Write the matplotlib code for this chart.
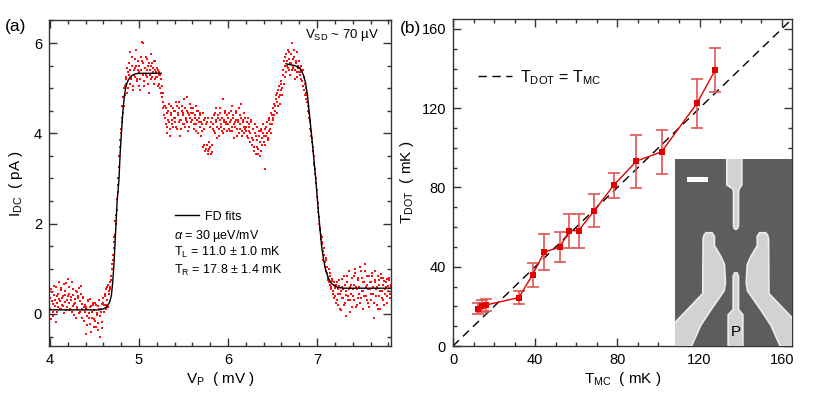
import numpy as np
import matplotlib
matplotlib.use("Agg")
import matplotlib.pyplot as plt
from matplotlib.patches import Polygon, Rectangle
from matplotlib.ticker import MultipleLocator

plt.rcParams['font.family'] = ['Liberation Sans', 'DejaVu Sans']
plt.rcParams['mathtext.fontset'] = 'custom'
plt.rcParams['mathtext.rm'] = 'Liberation Sans'
plt.rcParams['mathtext.it'] = 'Liberation Sans:italic'

# ---------------- Panel (a) data ----------------
VP_START = 4.00
VP_STEP = 0.01
I_DC = [
    0.35, -0.12, 0.48, 0.22, 0.05, 0.62, 0.31, -0.18, 0.40, 0.15, 0.70, 0.28, 0.10, 0.52, 0.35, 0.18, 0.66, 0.42, 0.08, 0.30,
    0.78, 0.25, 0.45, 0.12, 0.38, 0.05, 0.55, 0.22, 0.32, -0.08, 0.48, 0.15, 0.40, 0.02, 0.28, 0.62, 0.10, 0.35, -0.15, 0.20,
    -0.45, 0.15, -0.05, 0.30, 0.02, -0.22, 0.18, -0.10, 0.25, -0.30, 0.08, -0.15, 0.20, -0.02, -0.35, 0.12, -0.50, 0.05, -0.18, 0.22,
    0.35, 0.05, 0.45, 0.20, 0.60, 0.15, 0.50, 0.70, 0.55, 0.75, 1.10, 1.30, 1.60, 1.75, 2.00, 2.30, 2.70, 3.00, 3.50, 3.85,
    4.10, 4.60, 4.45, 5.00, 4.85, 5.25, 5.10, 5.45, 5.00, 5.30, 5.80, 5.20, 5.50, 4.95, 5.40, 5.65, 5.25, 5.50, 5.15, 5.60,
    5.35, 4.95, 5.70, 6.02, 5.30, 5.55, 5.05, 5.45, 5.70, 5.25, 5.50, 4.90, 5.40, 5.75, 5.20, 5.55, 5.35, 5.10, 5.60, 5.25,
    5.45, 5.05, 5.35, 5.30, 5.00, 5.20, 4.80, 4.55, 4.40, 4.60, 4.20, 4.45, 4.00, 4.30, 4.65, 3.95, 4.40, 4.20, 4.55, 4.35,
    4.50, 4.25, 4.70, 4.10, 4.40, 4.55, 3.95, 4.30, 4.60, 4.20, 4.45, 4.75, 4.15, 4.35, 4.50, 4.05, 4.40, 4.65, 4.25, 4.45,
    4.30, 4.55, 4.10, 4.40, 4.20, 4.50, 4.00, 4.35, 4.15, 4.45, 4.25, 4.05, 3.70, 4.30, 3.60, 4.20, 3.75, 3.55, 4.35, 3.65,
    3.70, 4.25, 3.58, 4.10, 4.40, 4.00, 4.30, 4.55, 4.15, 4.35, 3.95, 4.45, 4.20, 4.05, 4.75, 4.30, 4.10, 4.50, 4.25, 4.40,
    4.20, 4.45, 4.05, 4.30, 4.60, 4.15, 4.35, 3.90, 4.25, 4.50, 4.10, 4.30, 4.00, 4.40, 4.20, 4.65, 3.95, 4.25, 4.45, 4.10,
    4.15, 3.95, 4.35, 4.05, 4.20, 3.80, 4.25, 3.90, 4.10, 3.70, 4.00, 3.55, 3.85, 4.15, 3.65, 3.95, 3.50, 4.05, 3.75, 4.20,
    3.80, 4.10, 3.20, 3.95, 4.25, 3.85, 4.30, 4.10, 4.45, 4.20, 4.55, 4.35, 4.40, 4.60, 4.85, 4.70, 4.95, 4.80, 4.65, 5.10,
    5.15, 4.85, 5.40, 5.60, 5.25, 5.75, 5.50, 5.85, 5.40, 5.65, 5.30, 5.55, 6.00, 5.45, 5.70, 5.20, 5.55, 5.35, 5.80, 5.45,
    5.60, 5.30, 5.50, 5.15, 5.40, 4.95, 5.10, 4.75, 4.90, 4.85, 4.60, 4.45, 4.25, 4.05, 3.90, 3.70, 3.50, 3.30, 3.10, 2.90,
    2.60, 2.35, 2.15, 1.85, 1.75, 1.55, 1.60, 1.20, 1.45, 1.05, 1.25, 0.90, 0.75, 1.00, 0.65, 0.85, 0.55, 0.78, 0.45, 0.70,
    0.40, 0.65, 0.30, 0.55, 0.20, 0.75, 0.45, 0.08, 0.60, 0.35, 0.85, 0.25, 0.50, -0.05, 0.70, 0.40, 0.95, 0.30, 0.65, 0.15,
    0.55, 0.85, 0.30, 1.00, 0.60, 0.20, 0.75, 0.45, 1.05, 0.35, 0.80, 0.50, 0.10, 0.70, 0.95, 0.40, 0.65, 0.25, 0.85, 0.55,
    0.70, 0.30, 0.90, 0.45, -0.08, 0.75, 0.55, 0.20, 0.85, 0.40, 0.65, 0.10, 0.80, 0.50, 0.30, 0.72, 0.45, 0.60, 0.25, 0.78,
    0.50, 0.75, 0.35, 0.60,
]
# second (interleaved) sweep, offset by half a step
VP2_START = 4.005
I_DC_2 = [
    0.10, 0.55, 0.28, -0.05, 0.42, 0.18, 0.60, 0.25, 0.05, 0.45, 0.33, 0.12, 0.58, 0.20, 0.40, 0.02, 0.50, 0.26, 0.68, 0.15,
    0.40, 0.60, 0.08, 0.30, 0.70, 0.18, 0.42, -0.02, 0.25, 0.50, 0.12, 0.35, 0.58, 0.05, 0.45, 0.22, -0.10, 0.38, 0.15, 0.05,
    0.10, -0.25, 0.28, -0.08, 0.15, 0.32, -0.40, 0.05, 0.20, -0.12, 0.25, -0.28, 0.02, 0.18, -0.20, 0.30, -0.05, 0.10, -0.32, 0.25,
    0.20, 0.40, 0.10, 0.55, 0.30, 0.65, 0.45, 0.60, 0.85, 1.00, 1.20, 1.45, 1.70, 2.05, 2.20, 2.55, 2.85, 3.25, 3.70, 4.00,
    4.35, 4.25, 4.80, 4.60, 5.05, 5.20, 4.90, 5.35, 5.55, 5.10, 5.40, 5.25, 5.70, 5.05, 5.30, 5.45, 5.85, 5.20, 5.40, 5.05,
    5.50, 5.20, 5.40, 5.60, 6.00, 5.15, 5.45, 5.30, 5.65, 5.40, 5.10, 5.55, 5.30, 5.50, 5.25, 5.45, 5.60, 5.20, 5.40, 5.35,
    5.25, 5.40, 5.10, 5.30, 4.90, 5.05, 4.70, 4.90, 4.60, 4.35, 4.55, 4.15, 4.50, 4.25, 4.10, 4.45, 4.60, 4.30, 4.15, 4.50,
    4.35, 4.15, 4.60, 4.45, 4.25, 4.70, 4.30, 4.10, 4.50, 4.40, 4.20, 4.55, 4.30, 4.80, 4.25, 4.45, 4.15, 4.35, 4.55, 4.30,
    4.45, 4.20, 4.35, 4.60, 4.05, 4.30, 4.50, 4.25, 4.40, 3.95, 4.20, 4.45, 4.10, 3.75, 4.35, 3.65, 4.25, 3.60, 3.80, 4.15,
    3.55, 3.75, 4.35, 4.20, 4.05, 4.45, 4.25, 3.90, 4.40, 4.10, 4.30, 4.55, 4.15, 4.35, 4.00, 4.25, 4.45, 4.20, 4.05, 4.35,
    4.35, 4.10, 4.25, 4.50, 4.05, 4.40, 4.20, 4.15, 4.45, 4.30, 3.95, 4.25, 4.55, 4.10, 4.35, 4.05, 4.30, 4.15, 4.00, 4.35,
    4.05, 4.25, 3.90, 4.15, 4.00, 4.30, 3.75, 4.10, 3.85, 3.60, 4.20, 3.95, 3.70, 3.55, 4.05, 3.80, 4.10, 3.60, 3.90, 4.00,
    3.95, 3.75, 4.15, 4.00, 3.90, 4.35, 4.05, 4.20, 4.00, 4.40, 4.30, 4.65, 4.50, 4.75, 4.45, 4.90, 4.60, 5.05, 4.85, 4.95,
    5.00, 5.30, 5.10, 5.50, 5.70, 5.35, 5.60, 5.45, 5.80, 5.55, 5.75, 5.40, 5.65, 5.50, 5.85, 5.40, 5.60, 5.25, 5.50, 5.35,
    5.45, 5.20, 5.35, 5.40, 5.05, 5.25, 4.85, 5.00, 4.70, 4.50, 4.35, 4.30, 4.10, 3.95, 3.80, 3.60, 3.35, 3.20, 3.00, 2.75,
    2.45, 2.25, 2.00, 1.90, 1.65, 1.70, 1.40, 1.30, 1.15, 1.20, 0.95, 1.05, 0.80, 0.70, 0.90, 0.60, 0.72, 0.50, 0.65, 0.35,
    0.58, 0.25, 0.70, 0.45, 0.62, 0.10, 0.50, 0.35, 0.78, 0.55, 0.20, 0.65, 0.42, 0.85, 0.30, 0.55, 0.05, 0.60, 0.45, 0.80,
    0.40, 0.65, 0.90, 0.15, 0.55, 0.80, 0.35, 0.60, 0.25, 0.95, 0.50, 0.70, 0.40, 1.10, 0.60, 0.30, 0.85, 0.55, 0.15, 0.70,
    0.45, 0.85, 0.60, 0.25, 0.70, 0.95, 0.40, 0.60, 0.10, 0.75, 0.50, 0.88, 0.35, 0.65, 0.80, 0.20, 0.55, 0.70, 0.40, 0.62,
    0.80, 0.45, 0.65,
]
VP = VP_START + VP_STEP * np.arange(len(I_DC))
VP2 = VP2_START + VP_STEP * np.arange(len(I_DC_2))

FIT_L_VP = [4.00, 4.55, 4.60, 4.64, 4.67, 4.69, 4.705, 4.72, 4.74, 4.755, 4.775, 4.79, 4.805, 4.82, 4.835,
            4.85, 4.865, 4.88, 4.90, 4.92, 4.95, 4.98, 5.05, 5.25]
FIT_L_I = [0.09, 0.09, 0.11, 0.16, 0.26, 0.40, 0.70, 1.12, 1.90, 2.50, 2.96, 3.60, 4.07, 4.50, 4.80,
           5.00, 5.11, 5.18, 5.24, 5.28, 5.31, 5.325, 5.33, 5.33]
FIT_R_VP = [6.65, 6.75, 6.80, 6.83, 6.85, 6.87, 6.89, 6.91, 6.94, 6.98, 7.02, 7.05, 7.075, 7.10, 7.13,
            7.16, 7.20, 7.24, 7.30, 7.83]
FIT_R_I = [5.54, 5.50, 5.45, 5.37, 5.27, 5.12, 4.88, 4.50, 3.92, 3.10, 2.15, 1.52, 1.18, 0.94, 0.78,
           0.68, 0.615, 0.585, 0.57, 0.57]

# ---------------- Panel (b) data ----------------
T_MC = [12.0, 14.3, 16.0, 32.0, 38.7, 44.4, 52.0, 56.7, 61.1, 68.8, 78.2, 89.3, 101.5, 118.7, 127.6]
T_DOT = [18.7, 20.3, 20.7, 24.4, 35.9, 47.3, 50.0, 58.2, 58.2, 68.3, 81.1, 93.3, 98.0, 122.4, 139.2]
T_ERR = [2.8, 3.0, 3.0, 3.2, 6.0, 9.0, 7.4, 8.6, 8.6, 8.3, 6.4, 13.4, 11.0, 12.3, 11.0]
IDENT = [0, 165]

RED = '#e00000'
DOT_RED = '#ff1010'
ERRC = '#e05555'
SPINE = '#333333'

fig = plt.figure(figsize=(8.17, 4.0), dpi=100)
axa = fig.add_axes([49/817, 54/400, 342/817, 326/400])
axb = fig.add_axes([453/817, 54/400, 339/817, 327/400])


def style(ax):
    for s in ax.spines.values():
        s.set_color(SPINE)
        s.set_linewidth(1.0)
    ax.tick_params(which='both', direction='in', top=True, right=True,
                   color=SPINE, labelsize=10.5, pad=5)
    ax.tick_params(which='major', length=6, width=1)
    ax.tick_params(which='minor', length=3, width=1)


# ---- (a)
axa.plot(VP, I_DC, 's', ms=2.0, mew=0, color=DOT_RED, zorder=2)
axa.plot(VP2, I_DC_2, 's', ms=2.0, mew=0, color=DOT_RED, zorder=2)
fit_line, = axa.plot(FIT_L_VP, FIT_L_I, '-', color='black', lw=1.0, zorder=3, label='FD fits')
axa.plot(FIT_R_VP, FIT_R_I, '-', color='black', lw=1.0, zorder=3)
axa.set_xlim(3.99, 7.83)
axa.set_ylim(-0.71, 6.51)
axa.xaxis.set_major_locator(MultipleLocator(1))
axa.xaxis.set_minor_locator(MultipleLocator(0.2))
axa.yaxis.set_major_locator(MultipleLocator(2))
axa.yaxis.set_minor_locator(MultipleLocator(0.5))
style(axa)
axa.set_xlabel(r'$\mathrm{V_P}$  ( mV )', fontsize=11, labelpad=2)
axa.set_ylabel(r'$\mathrm{I_{DC}}$  ( pA )', fontsize=11, labelpad=6)
axa.text(0.965, 0.955, r'$\mathrm{V_{SD}}$ ~ 70 µV', transform=axa.transAxes,
         ha='right', va='center', fontsize=9.5)
axa.legend(handles=[fit_line], loc='upper left', bbox_to_anchor=(0.368, 0.415),
           frameon=False, fontsize=9, handlelength=1.9, handletextpad=0.5,
           borderpad=0, borderaxespad=0)
axa.text(0.365, 0.337, r'$\alpha$ = 30 µeV/mV', transform=axa.transAxes,
         ha='left', va='center', fontsize=9)
axa.text(0.365, 0.287, r'$\mathrm{T_L}$ = 11.0 ± 1.0 mK', transform=axa.transAxes,
         ha='left', va='center', fontsize=9)
axa.text(0.365, 0.233, r'$\mathrm{T_R}$ = 17.8 ± 1.4 mK', transform=axa.transAxes,
         ha='left', va='center', fontsize=9)

# ---- (b)
ident_line, = axb.plot(IDENT, IDENT, color='black', lw=1.0, dashes=(6, 4), zorder=2,
                       label=r'$\mathrm{T_{DOT}}$ = $\mathrm{T_{MC}}$')
axb.errorbar(T_MC, T_DOT, yerr=T_ERR, fmt='none', ecolor=ERRC, elinewidth=1.2,
             capsize=4, capthick=1.2, zorder=3)
axb.plot(T_MC, T_DOT, '-s', color=RED, lw=1.0, ms=5, mew=0, zorder=4)
axb.set_xlim(0, 165)
axb.set_ylim(0, 165)
axb.xaxis.set_major_locator(MultipleLocator(40))
axb.xaxis.set_minor_locator(MultipleLocator(10))
axb.yaxis.set_major_locator(MultipleLocator(40))
axb.yaxis.set_minor_locator(MultipleLocator(10))
style(axb)
axb.set_xlabel(r'$\mathrm{T_{MC}}$  ( mK )', fontsize=11, labelpad=2)
axb.set_ylabel(r'$\mathrm{T_{DOT}}$  ( mK )', fontsize=11, labelpad=4)
axb.legend(handles=[ident_line], loc='upper left', bbox_to_anchor=(0.074, 0.85),
           frameon=False, fontsize=11.5, handlelength=2.1, handletextpad=0.5,
           borderpad=0, borderaxespad=0)

fig.text(5/817, 1 - 27/400, '(a)', fontsize=12.5, ha='left', va='center')
fig.text(400/817, 1 - 28/400, '(b)', fontsize=12.5, ha='left', va='center')

# ---- SEM inset (illustration)
axi = fig.add_axes([675/817, 54/400, 117/817, 187/400], zorder=5)
axi.set_xlim(13, 363)
axi.set_ylim(590, 27)
axi.set_facecolor('#5d5d5d')
axi.set_xticks([])
axi.set_yticks([])
for s in axi.spines.values():
    s.set_visible(False)
gate_fc = '#d2d2d2'
gate_ec = '#ededed'
top_gate = [(168, 20), (213, 20), (213, 105), (205, 117), (203, 126), (203, 228), (200, 236),
            (195, 239), (190, 236), (188, 228), (188, 126), (186, 117), (168, 105)]
left_gate = [(100, 256), (106, 249), (124, 249), (131, 260), (131, 288), (150, 320), (161, 345),
             (164, 400), (160, 424), (120, 482), (90, 528), (58, 600), (5, 600), (5, 528),
             (58, 472), (96, 432), (97, 268)]
right_gate = [(390 - x, y) for x, y in left_gate]
p_gate = [(187, 380), (191, 370), (199, 370), (203, 380), (203, 480), (216, 496), (216, 600),
          (172, 600), (172, 496), (187, 480)]
for pts in (top_gate, left_gate, right_gate, p_gate):
    axi.add_patch(Polygon(pts, closed=True, fc=gate_fc, ec=gate_ec, lw=1.2))
axi.add_patch(Rectangle((48, 82), 65, 13, fc='white', ec='none'))
axi.text(195, 548, 'P', ha='center', va='center', fontsize=11, color='black')

fig.savefig('out.png', dpi=100)
